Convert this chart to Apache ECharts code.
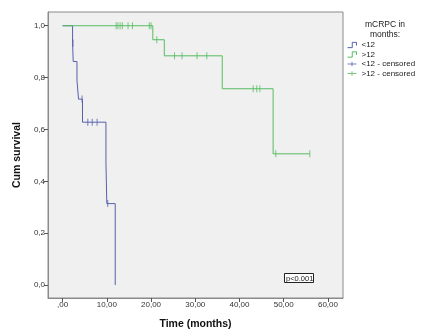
<!DOCTYPE html>
<html><head><meta charset="utf-8">
<script src="https://cdn.jsdelivr.net/npm/echarts@6/dist/echarts.min.js"></script>
<style>html,body{margin:0;padding:0;background:#fff}#c{width:425px;height:335px}</style>
</head><body><div id="c"></div>
<script>
// ---- data ----
const lt12Time = [0, 2.26, 2.4, 3.25, 3.6, 4.5, 9.8, 10.0, 11.9];
const lt12Surv = [1.0, 0.933, 0.862, 0.790, 0.717, 0.628, 0.471, 0.314, 0.0];
const lt12CensTime = [2.35, 4.4, 5.7, 6.7, 7.8, 10.2];
const lt12CensSurv = [0.933, 0.717, 0.628, 0.628, 0.628, 0.314];
const gt12Time = [0, 20.4, 23.0, 36.1, 47.6, 55.9];
const gt12Surv = [1.0, 0.946, 0.884, 0.757, 0.506, 0.506];
const gt12CensTime = [12.1, 12.5, 13.0, 13.5, 14.8, 15.8, 19.6, 20.0, 21.3, 25.3, 27.0, 30.4, 32.6, 43.1, 43.9, 44.6, 48.2, 55.9];
const gt12CensSurv = [1, 1, 1, 1, 1, 1, 1, 1, 0.946, 0.884, 0.884, 0.884, 0.884, 0.757, 0.757, 0.757, 0.506, 0.506];
const xTickValues = [0, 10, 20, 30, 40, 50, 60];
const xTickLabels = [',00', '10,00', '20,00', '30,00', '40,00', '50,00', '60,00'];
const yTickValues = [0, 0.2, 0.4, 0.6, 0.8, 1.0];
const yTickLabels = ['0,0', '0,2', '0,4', '0,6', '0,8', '1,0'];
const seriesNames = ['<12', '>12', '<12 - censored', '>12 - censored'];

const BLUE = '#5661ad', GREEN = '#55bd60';
const zip = (a, b) => a.map((v, i) => [v, b[i]]);
const labelFor = (vals, labels) => v => {
  const i = vals.findIndex(t => Math.abs(t - v) < 1e-6);
  return i >= 0 ? labels[i] : '';
};
const FONT = 'Liberation Sans, Arial, sans-serif';
const stepIcon = 'path://M0,10 L9,10 L9,0 L17,0 L17,6';
const plusIcon = 'path://M0,5 L20,5 M10,0 L10,10';

const chart = echarts.init(document.getElementById('c'), null, {renderer: 'canvas'});
chart.setOption({
  animation: false,
  backgroundColor: '#fff',
  title: {
    text: 'mCRPC in\nmonths:',
    left: 380, top: 15, textAlign: 'center',
    textStyle: {fontFamily: FONT, fontSize: 8.5, fontWeight: 'normal', color: '#222', lineHeight: 9.5}
  },
  legend: {
    orient: 'vertical', left: 342, top: 36,
    itemWidth: 9, itemHeight: 7, itemGap: 1.5,
    textStyle: {fontFamily: FONT, fontSize: 8, color: '#222'},
    data: [
      {name: seriesNames[0], icon: stepIcon, itemStyle: {color: 'transparent', borderColor: BLUE, borderWidth: 1}},
      {name: seriesNames[1], icon: stepIcon, itemStyle: {color: 'transparent', borderColor: GREEN, borderWidth: 1}},
      {name: seriesNames[2], icon: plusIcon, itemStyle: {color: 'transparent', borderColor: BLUE, borderWidth: 1}},
      {name: seriesNames[3], icon: plusIcon, itemStyle: {color: 'transparent', borderColor: GREEN, borderWidth: 1}}
    ]
  },
  grid: {
    left: 48, top: 12, right: 82, bottom: 37,
    show: true, backgroundColor: '#f0f0f0', borderColor: '#8a8a8a', borderWidth: 1
  },
  xAxis: {
    type: 'value', min: -3.3, max: 63.4,
    name: 'Time (months)', nameLocation: 'middle', nameGap: 21,
    nameTextStyle: {fontFamily: FONT, fontSize: 10.5, fontWeight: 'bold', color: '#111'},
    axisLine: {show: true, onZero: false, lineStyle: {color: '#8a8a8a'}},
    axisTick: {show: true, length: 4, customValues: xTickValues, lineStyle: {color: '#555'}},
    axisLabel: {customValues: xTickValues, formatter: labelFor(xTickValues, xTickLabels),
      fontFamily: FONT, fontSize: 8, color: '#333', margin: 3},
    splitLine: {show: false}
  },
  yAxis: {
    type: 'value', min: -0.05, max: 1.053,
    name: 'Cum survival', nameLocation: 'middle', nameGap: 22,
    nameTextStyle: {fontFamily: FONT, fontSize: 10.5, fontWeight: 'bold', color: '#111'},
    axisLine: {show: true, onZero: false, lineStyle: {color: '#8a8a8a'}},
    axisTick: {show: true, length: 4, customValues: yTickValues, lineStyle: {color: '#555'}},
    axisLabel: {customValues: yTickValues, formatter: labelFor(yTickValues, yTickLabels),
      fontFamily: FONT, fontSize: 8, color: '#333', margin: 3},
    splitLine: {show: false}
  },
  series: [
    {name: seriesNames[0], type: 'line', step: 'end', data: zip(lt12Time, lt12Surv),
      showSymbol: false, symbol: 'none', lineStyle: {color: BLUE, width: 1}, itemStyle: {color: BLUE}, z: 2},
    {name: seriesNames[1], type: 'line', step: 'end', data: zip(gt12Time, gt12Surv),
      showSymbol: false, symbol: 'none', lineStyle: {color: GREEN, width: 1}, itemStyle: {color: GREEN}, z: 3},
    {name: seriesNames[2], type: 'scatter', data: zip(lt12CensTime, lt12CensSurv),
      symbol: 'rect', symbolSize: [1, 7], itemStyle: {color: BLUE}, z: 4},
    {name: seriesNames[3], type: 'scatter', data: zip(gt12CensTime, gt12CensSurv),
      symbol: 'rect', symbolSize: [1, 7], itemStyle: {color: GREEN}, z: 4}
  ],
  graphic: [
    {type: 'rect', left: 284, top: 273, shape: {width: 29, height: 9},
      style: {fill: '#fff', stroke: '#222', lineWidth: 1}, z: 10},
    {type: 'text', left: 286, top: 274.5,
      style: {text: 'p<0.001', fill: '#222', font: '7.5px Liberation Sans, Arial, sans-serif'}, z: 11}
  ]
});
</script></body></html>
